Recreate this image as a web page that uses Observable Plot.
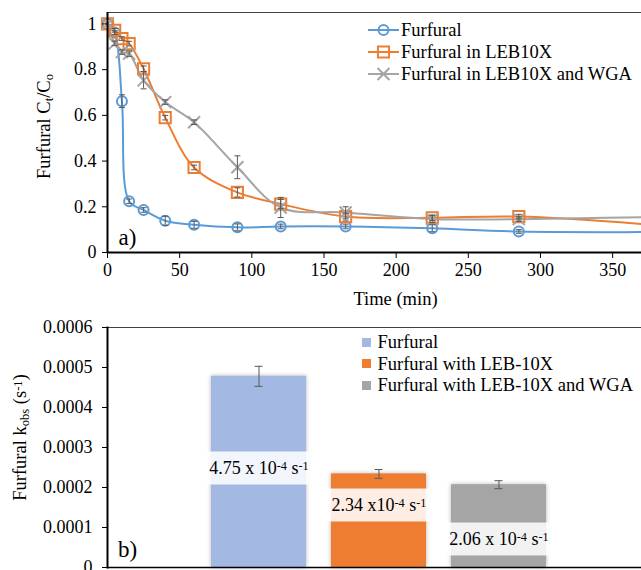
<!DOCTYPE html>
<html><head><meta charset="utf-8">
<script src="https://cdn.jsdelivr.net/npm/d3@7"></script>
<script src="https://cdn.jsdelivr.net/npm/@observablehq/plot@0.6"></script>
<style>
html,body{margin:0;padding:0;background:#fff;}
#wrap{position:relative;width:641px;height:570px;overflow:hidden;font-family:"Liberation Serif","Times New Roman",serif;}
#top{position:absolute;left:0;top:0;}
#bot{position:absolute;left:0;top:310px;}
.leg{position:absolute;font-size:18.5px;line-height:22px;height:22px;white-space:nowrap;color:#000;}
.sw{position:absolute;}
</style></head><body>
<div id="wrap"><div id="top"></div><div id="bot"></div></div>
<script>
// ---------- Panel a) data ----------
const times = [0, 5, 10, 15, 25, 40, 60, 90, 120, 165, 225, 285, 420];
const furfural      = [1.00, 0.962, 0.662, 0.224, 0.186, 0.139, 0.121, 0.110, 0.114, 0.114, 0.106, 0.092, 0.090];
const furfuralErr   = [0, 0.008, 0.028, 0.010, 0.010, 0.020, 0.015, 0.015, 0.010, 0.010, 0.015, 0.008, 0];
const furfLeb       = [1.00, 0.972, 0.936, 0.914, 0.804, 0.590, 0.372, 0.263, 0.212, 0.157, 0.152, 0.157, 0.100];
const furfLebErr    = [0, 0.008, 0.008, 0.010, 0.012, 0.010, 0.010, 0.020, 0.020, 0.015, 0.012, 0.010, 0];
const furfLebWga    = [1.00, 0.915, 0.877, 0.870, 0.753, 0.658, 0.570, 0.373, 0.197, 0.175, 0.146, 0.146, 0.160];
const furfLebWgaErr = [0, 0.010, 0.010, 0.012, 0.037, 0.010, 0.010, 0.050, 0.044, 0.025, 0.015, 0.010, 0];
const seriesNames = ["Furfural", "Furfural in LEB10X", "Furfural in LEB10X and WGA"];
const xTicks = [0, 50, 100, 150, 200, 250, 300, 350];
const yTicks = [0, 0.2, 0.4, 0.6, 0.8, 1];

// ---------- Panel b) data ----------
const barCats   = ["Furfural", "Furfural with LEB-10X", "Furfural with LEB-10X and WGA"];
const barValues = [0.000478, 0.000234, 0.000207];
const barErrors = [0.000025, 0.000011, 0.000010];
const barLabels = ["4.75 x 10^{-4} s^{-1}", "2.34 x10^{-4} s^{-1}", "2.06 x 10^{-4} s^{-1}"];
const labelPos  = [0.0002475, 0.000155, 0.00007];
const kTicks = [0, 0.0001, 0.0002, 0.0003, 0.0004, 0.0005, 0.0006];

// ---------- styles ----------
const lineColors = ["#5B9BD5", "#ED7D31", "#A5A5A5"];
const barColors  = ["#A3B9E3", "#EE7D32", "#A5A5A5"];
const symbols = ["circle", "square", "times"];
const symbolR = [5, 6.3, 5.5];
const FONT = "'Liberation Serif','Times New Roman',serif";
const errColor = "#595959";
const capSymbol = {draw(ctx, size) { const w = Math.sqrt(size) / 2; ctx.moveTo(-w, 0); ctx.lineTo(w, 0); }};

const seriesVals = [furfural, furfLeb, furfLebWga];
const seriesErrs = [furfuralErr, furfLebErr, furfLebWgaErr];
const rows = seriesNames.flatMap((s, i) => times.map((t, j) => ({s, i, t, v: seriesVals[i][j], e: seriesErrs[i][j]})));
const xDomain = [0, 370];
const yDomain = [0, 1.05];
const visible = rows.filter(d => d.t <= xDomain[1]);
const withErr = visible.filter(d => d.e > 0);

const marksA = [Plot.ruleY([yDomain[1]], {stroke: "#404040", strokeWidth: 1})];
seriesNames.forEach((s, i) => {
  marksA.push(Plot.line(rows.filter(d => d.i === i), {x: "t", y: "v", stroke: lineColors[i], strokeWidth: 2, curve: "catmull-rom", clip: true}));
});
seriesNames.forEach((s, i) => {
  marksA.push(Plot.dot(visible.filter(d => d.i === i), {x: "t", y: "v", symbol: symbols[i], r: symbolR[i], stroke: lineColors[i], strokeWidth: 2, fill: "none"}));
});
marksA.push(
  Plot.ruleX(withErr, {x: "t", y1: d => d.v - d.e, y2: d => d.v + d.e, stroke: errColor, strokeWidth: 1}),
  Plot.dot(withErr, {x: "t", y: d => d.v + d.e, symbol: capSymbol, r: 3.4, stroke: errColor, strokeWidth: 1}),
  Plot.dot(withErr, {x: "t", y: d => d.v - d.e, symbol: capSymbol, r: 3.4, stroke: errColor, strokeWidth: 1}),
  Plot.axisY({ticks: yTicks, tickSize: 5, tickPadding: 6, label: null, tickFormat: d3.format("~g")}),
  Plot.axisX({ticks: xTicks, tickSize: 6, tickPadding: 5, label: null}),
  Plot.ruleX([xDomain[0]], {stroke: "#000", strokeWidth: 2}),
  Plot.ruleY([yDomain[0]], {stroke: "#000", strokeWidth: 2}),
  Plot.text(["Furfural C_{t}/C_{o}"], {frameAnchor: "left", textAnchor: "middle", lineAnchor: "middle", rotate: -90, dx: -63, dy: -6, fontSize: 18.5}),
  Plot.text(["Time (min)"], {frameAnchor: "bottom", textAnchor: "middle", lineAnchor: "middle", dx: 21, dy: 47, fontSize: 18.5}),
  Plot.text(["a)"], {frameAnchor: "bottom-left", textAnchor: "middle", lineAnchor: "middle", dx: 20, dy: -15, fontSize: 23})
);

const plotA = Plot.plot({
  width: 641, height: 310, marginTop: 12, marginLeft: 107, marginRight: 0, marginBottom: 58,
  style: {fontFamily: FONT, fontSize: "18px", color: "#000", background: "transparent", overflow: "visible"},
  x: {domain: xDomain},
  y: {domain: yDomain},
  marks: marksA
});
document.getElementById("top").appendChild(plotA);

// ---------- Panel b) ----------
const bars = barCats.map((c, i) => ({cat: c, value: barValues[i], err: barErrors[i], label: barLabels[i], pos: labelPos[i]}));
const boxHalf = 0.0000412;
const plotB = Plot.plot({
  width: 641, height: 260, marginTop: 17, marginLeft: 107, marginRight: 0, marginBottom: 3,
  style: {fontFamily: FONT, fontSize: "18px", color: "#000", background: "transparent", overflow: "visible"},
  x: {domain: barCats, range: [198.5, 558.5], paddingInner: 0.208, paddingOuter: 0.104, axis: null},
  y: {domain: [0, 0.0006]},
  color: {domain: barCats, range: barColors},
  marks: [
    Plot.frame({anchor: "top", stroke: "#404040", strokeWidth: 1}),
    Plot.barY(bars, {x: "cat", y: "value", fill: "cat"}),
    Plot.barY(bars, {x: "cat", y1: d => d.pos - boxHalf, y2: d => d.pos + boxHalf, fill: "white", fillOpacity: 0.86, insetLeft: -6, insetRight: -3}),
    Plot.text(bars, {x: "cat", y: "pos", text: "label", fontSize: 18}),
    Plot.ruleX(bars, {x: "cat", y1: d => d.value - d.err, y2: d => d.value + d.err, stroke: errColor, strokeWidth: 1}),
    Plot.tickY(bars, {x: "cat", y: d => d.value + d.err, stroke: errColor, insetLeft: 43.5, insetRight: 43.5}),
    Plot.tickY(bars, {x: "cat", y: d => d.value - d.err, stroke: errColor, insetLeft: 43.5, insetRight: 43.5}),
    Plot.axisY({ticks: kTicks, tickSize: 5, tickPadding: 10, label: null, tickFormat: d => d === 0 ? "0" : d3.format(".4f")(d)}),
    Plot.frame({anchor: "left", stroke: "#000", strokeWidth: 2}),
    Plot.frame({anchor: "bottom", stroke: "#000", strokeWidth: 1.5}),
    Plot.text(["Furfural k_{obs} (s^{-1})"], {frameAnchor: "left", textAnchor: "middle", lineAnchor: "middle", rotate: -90, dx: -87, dy: -10, fontSize: 18.5}),
    Plot.text(["b)"], {frameAnchor: "bottom-left", textAnchor: "middle", lineAnchor: "middle", dx: 20, dy: -18, fontSize: 23})
  ]
});
document.getElementById("bot").appendChild(plotB);
d3.select(plotB).select("g[aria-label=bar]").style("filter", "drop-shadow(0 0 2px rgba(0,0,0,0.3))");

// ---------- rich text (sub/superscripts) ----------
function richify(root) {
  d3.select(root).selectAll("text").each(function() {
    const t = this.textContent;
    if (!/[_^]\{/.test(t)) return;
    const parts = t.split(/([_^]\{[^}]*\})/);
    this.textContent = "";
    parts.forEach(p => {
      if (!p) return;
      const ts = document.createElementNS("http://www.w3.org/2000/svg", "tspan");
      const m = p.match(/^([_^])\{([^}]*)\}$/);
      if (m) {
        ts.textContent = m[2];
        ts.setAttribute("font-size", "68%");
        ts.setAttribute("baseline-shift", m[1] === "^" ? "33%" : "-20%");
      } else ts.textContent = p;
      this.appendChild(ts);
    });
  });
}
richify(plotA); richify(plotB);

// ---------- legends ----------
const wrap = document.getElementById("wrap");
const legA = {x: 367.7, textX: 401, ys: [30, 51.7, 74]};
seriesNames.forEach((s, i) => {
  const cy = legA.ys[i];
  const svg = d3.create("svg").attr("class", "sw").attr("width", 32).attr("height", 16)
    .style("left", legA.x + "px").style("top", (cy - 8) + "px");
  svg.append("line").attr("x1", 0).attr("x2", 31).attr("y1", 8).attr("y2", 8).attr("stroke", lineColors[i]).attr("stroke-width", 2);
  svg.append("path").attr("transform", "translate(15.5,8)")
    .attr("d", d3.symbol(i === 0 ? d3.symbolCircle : i === 1 ? d3.symbolSquare : d3.symbolTimes, Math.PI * symbolR[i] ** 2)())
    .attr("fill", "none").attr("stroke", lineColors[i]).attr("stroke-width", 2);
  wrap.appendChild(svg.node());
  const div = document.createElement("div");
  div.className = "leg"; div.textContent = s;
  div.style.left = legA.textX + "px"; div.style.top = (cy - 11) + "px";
  wrap.appendChild(div);
});
const legB = {x: 362, textX: 377.5, ys: [342, 363.5, 385]};
barCats.forEach((c, i) => {
  const cy = legB.ys[i];
  const sq = document.createElement("div");
  sq.style.cssText = `position:absolute;left:${legB.x}px;top:${cy - 4.5}px;width:9px;height:9px;background:${barColors[i]}`;
  wrap.appendChild(sq);
  const div = document.createElement("div");
  div.className = "leg"; div.textContent = c;
  div.style.left = legB.textX + "px"; div.style.top = (cy - 11) + "px";
  wrap.appendChild(div);
});
</script>
</body></html>
